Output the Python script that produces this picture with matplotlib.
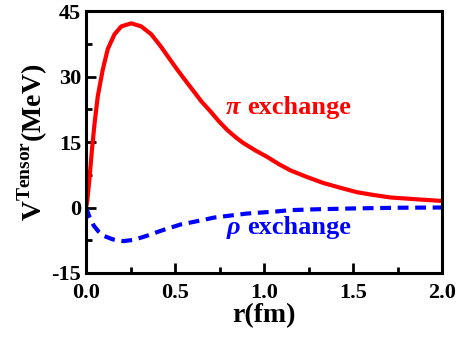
import numpy as np
import matplotlib
matplotlib.use("Agg")
import matplotlib.pyplot as plt
from matplotlib.ticker import MultipleLocator, FormatStrFormatter

plt.rcParams['font.family'] = ['Liberation Serif', 'DejaVu Serif']
plt.rcParams['font.weight'] = 'bold'
plt.rcParams['axes.unicode_minus'] = False
plt.rcParams['mathtext.fontset'] = 'custom'
plt.rcParams['mathtext.rm'] = 'Liberation Serif:bold'
plt.rcParams['mathtext.bf'] = 'Liberation Serif:bold'

# values
r_pi = [0.0, 0.007, 0.02, 0.033, 0.048, 0.066, 0.094, 0.122, 0.16, 0.198,
        0.254, 0.31, 0.366, 0.418, 0.465, 0.512, 0.56, 0.605, 0.65, 0.699,
        0.745, 0.792, 0.84, 0.886, 0.95, 1.017, 1.08, 1.148, 1.24, 1.334,
        1.43, 1.522, 1.61, 1.709, 1.85, 2.0]
v_pi = [0.0, 1.5, 6.9, 13.1, 19.3, 25.5, 31.6, 36.3, 39.7, 41.5,
        42.2, 41.5, 39.7, 37.0, 34.3, 31.6, 29.0, 26.6, 24.2, 22.0,
        19.8, 17.8, 16.1, 14.7, 13.1, 11.6, 10.0, 8.5, 7.0, 5.6,
        4.5, 3.5, 2.9, 2.3, 1.9, 1.5]

r_rho = [0.0, 0.02, 0.044, 0.07, 0.1, 0.15, 0.21, 0.27, 0.34, 0.43, 0.53,
         0.64, 0.72, 0.9, 1.07, 1.148, 1.3, 1.52, 1.76, 2.0]
v_rho = [0.0, -2.2, -4.2, -5.5, -6.5, -7.3, -7.7, -7.4, -6.5, -5.2, -3.9,
         -3.0, -2.3, -1.4, -0.9, -0.6, -0.4, -0.2, -0.05, 0.0]

fig = plt.figure(figsize=(4.65, 3.37), dpi=100)
ax = fig.add_axes([0.185, 0.19, 0.766, 0.777])

ax.plot(r_pi, v_pi, color='red', lw=3, solid_joinstyle='round')
ax.plot(r_rho, v_rho, color='blue', lw=3, linestyle=(0, (2.6, 1.6)))

ax.set_xlim(0, 2.0)
ax.set_ylim(-15, 45)
ax.xaxis.set_major_locator(MultipleLocator(0.5))
ax.xaxis.set_minor_locator(MultipleLocator(0.25))
ax.yaxis.set_major_locator(MultipleLocator(15))
ax.yaxis.set_minor_locator(MultipleLocator(7.5))
ax.xaxis.set_major_formatter(FormatStrFormatter('%.1f'))
ax.tick_params(which='both', direction='in', width=2, labelsize=16)
ax.tick_params(which='major', length=7)
ax.tick_params(which='minor', length=4)
ax.tick_params(axis='x', pad=7)
for s in ax.spines.values():
    s.set_linewidth(2.2)

ax.set_xlabel('r(fm)', fontsize=20, fontweight='bold', labelpad=0)
ax.set_ylabel(r'V$^{\mathrm{Tensor}}$(MeV)', fontsize=20, fontweight='bold', labelpad=1)

ax.text(0.867, 23.0, 'π', color='red', fontsize=19, fontweight='bold',
        fontstyle='italic', ha='right', va='center')
ax.text(0.905, 23.0, 'exchange', color='red', fontsize=19, fontweight='bold',
        ha='left', va='center')
ax.text(0.867, -4.5, 'ρ', color='blue', fontsize=19, fontweight='bold',
        fontstyle='italic', ha='right', va='center')
ax.text(0.905, -4.5, 'exchange', color='blue', fontsize=19, fontweight='bold',
        ha='left', va='center')

fig.savefig('out.png', dpi=100)
